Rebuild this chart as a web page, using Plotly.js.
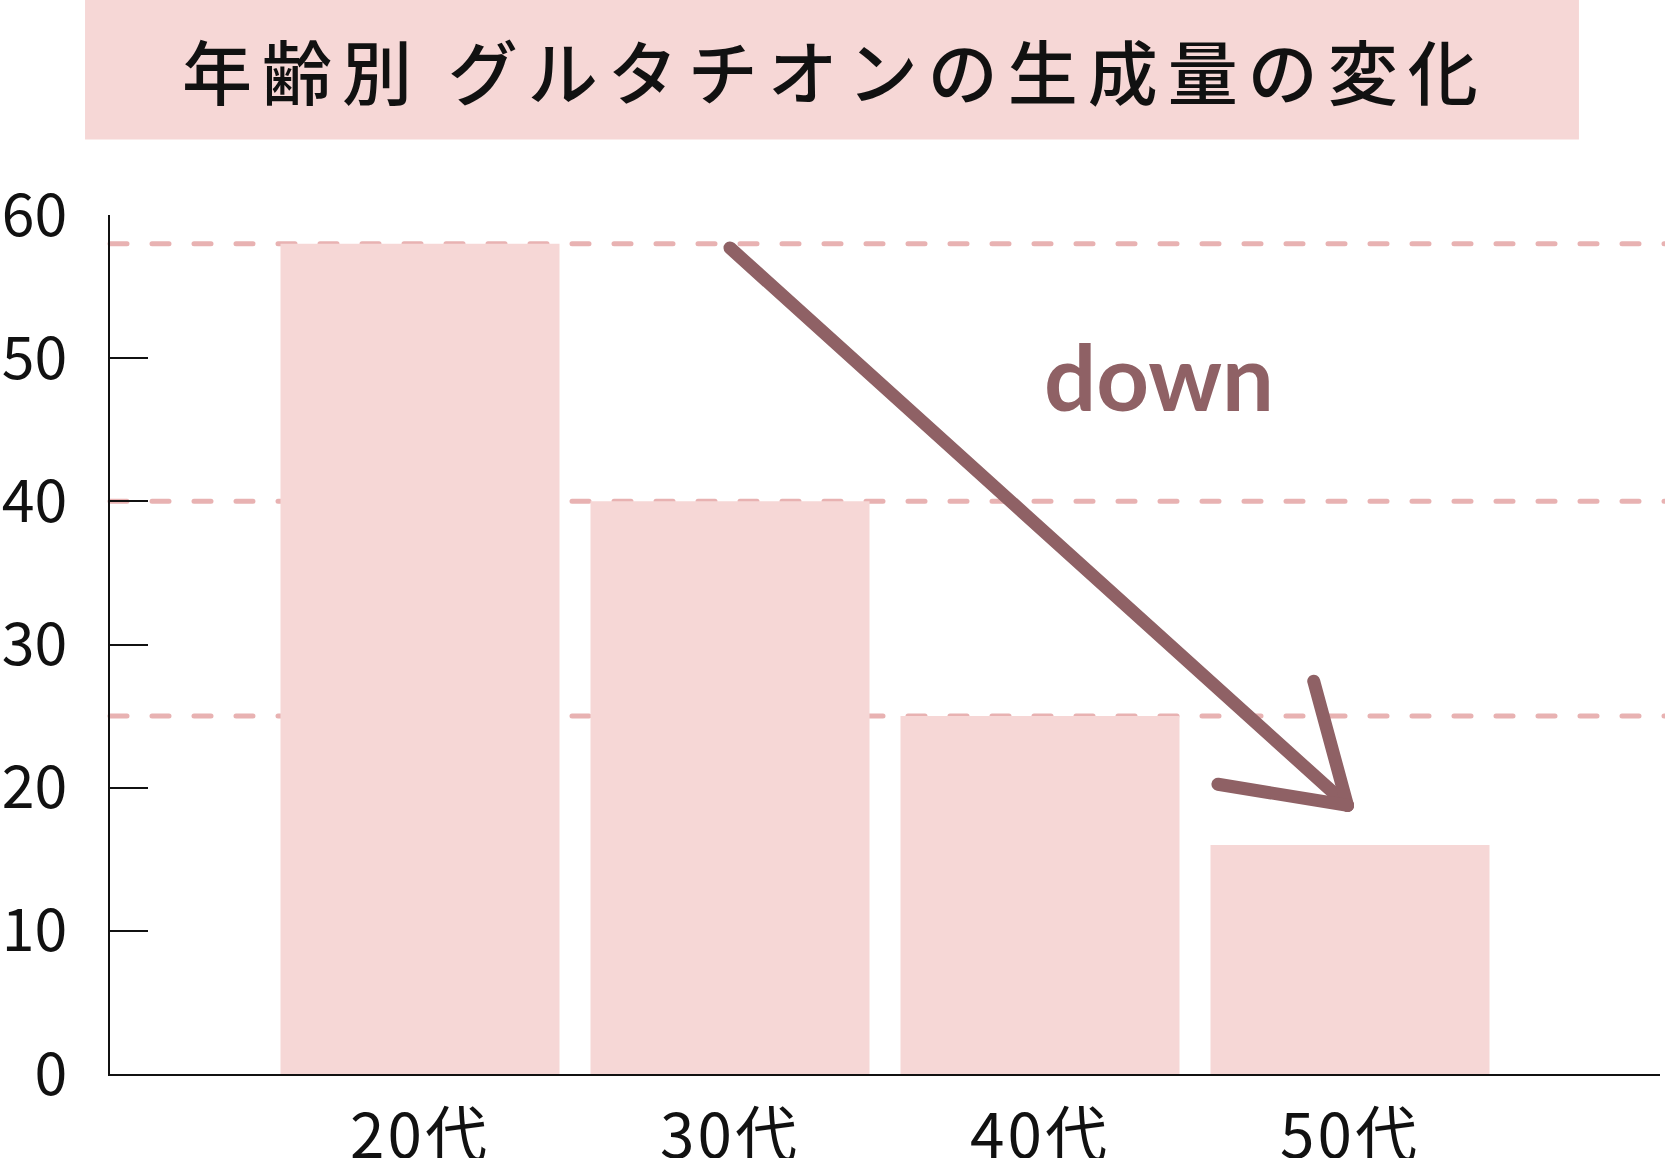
<!DOCTYPE html>
<html>
<head>
<meta charset="utf-8">
<script src="https://cdn.plot.ly/plotly-3.0.1.min.js"></script>
<style>
  html, body { margin: 0; padding: 0; background: #fff; }
  #chart { width: 1665px; height: 1158px; }
</style>
</head>
<body>
<div id="chart"></div>
<script>
var ages = ["20代", "30代", "40代", "50代"];
var amounts = [58, 40, 25, 16];
var yTicks = [0, 10, 20, 30, 40, 50, 60];
var refLevels = [58, 40, 25];
var chartTitle = "年齢別 グルタチオンの生成量の変化";
var arrowLabel = "down";

var pink = "#f6d7d6";
var dashPink = "#e8b2b2";
var arrowCol = "#8f6165";
var jp = "'Noto Sans CJK JP', 'Noto Sans', sans-serif";

var data = [{
    x: ages,
    y: amounts,
    type: "bar",
    marker: { color: pink, line: { width: 0 } },
    hoverinfo: "skip"
}];

var shapes = [];
// title band
shapes.push({
    type: "rect", xref: "paper", yref: "paper",
    x0: -0.0161, x1: 0.9477, y0: 1.088, y1: 1.26,
    fillcolor: pink, line: { width: 0 }, layer: "below"
});
// dashed reference lines at the first three bar heights
for (var v of refLevels) {
    shapes.push({
        type: "line", xref: "paper", yref: "y",
        x0: 0, x1: 1.01, y0: v, y1: v,
        line: { color: dashPink, width: 5, dash: "17px,25px" },
        layer: "below"
    });
}
// arrow (shaft + open head)
var arrowLines = [
    [1.0, 57.7, 2.992, 18.76],
    [2.883, 27.44, 2.992, 18.76],
    [2.574, 20.24, 2.992, 18.76]
];
for (var a of arrowLines) {
    shapes.push({
        type: "line", xref: "x", yref: "y",
        x0: a[0], y0: a[1], x1: a[2], y1: a[3],
        line: { color: arrowCol, width: 13 },
        layer: "above"
    });
}

var spaced = function (s, px) {
    return '<span style="letter-spacing:' + px + 'px">' + s + '</span>';
};

var layout = {
    width: 1665,
    height: 1158,
    margin: { l: 110, r: 5, t: 214.5, b: 84.4, pad: 0 },
    paper_bgcolor: "#ffffff",
    plot_bgcolor: "#ffffff",
    showlegend: false,
    bargap: 0.1,
    font: { family: jp, color: "#111111" },
    xaxis: {
        type: "category",
        range: [-1, 4],
        showgrid: false,
        zeroline: false,
        showline: true,
        linecolor: "#111111",
        linewidth: 2,
        ticks: "",
        tickvals: ages,
        ticktext: ages.map(function (s) { return spaced(s, 3); }),
        tickfont: { family: jp, size: 62, color: "#111111" },
        ticklabelstandoff: 8,
        fixedrange: true
    },
    yaxis: {
        range: [0, 60],
        showgrid: false,
        zeroline: false,
        showline: true,
        linecolor: "#111111",
        linewidth: 2,
        ticks: "inside",
        ticklen: 38,
        tickwidth: 2,
        tickcolor: "#111111",
        tickvals: yTicks,
        tickfont: { family: jp, size: 59, color: "#111111" },
        ticklabelstandoff: 29,
        fixedrange: true
    },
    shapes: shapes,
    annotations: [{
        xref: "paper", yref: "paper",
        x: 0.468, y: 1.1694,
        xanchor: "center", yanchor: "middle",
        showarrow: false,
        text: spaced(chartTitle, 10),
        font: { family: jp, size: 70, weight: 500, color: "#111111" }
    }, {
        xref: "x", yref: "y",
        x: 2.384, y: 48.8,
        xanchor: "center", yanchor: "middle",
        showarrow: false,
        text: "<b>" + arrowLabel + "</b>",
        font: { family: "Lato, 'Open Sans', sans-serif", size: 92, color: arrowCol }
    }]
};

Plotly.newPlot("chart", data, layout, { staticPlot: true, displayModeBar: false }).then(function () {
    document.querySelectorAll(".shapelayer path").forEach(function (p) {
        p.style.strokeLinecap = "round";
    });
});
</script>
</body>
</html>
